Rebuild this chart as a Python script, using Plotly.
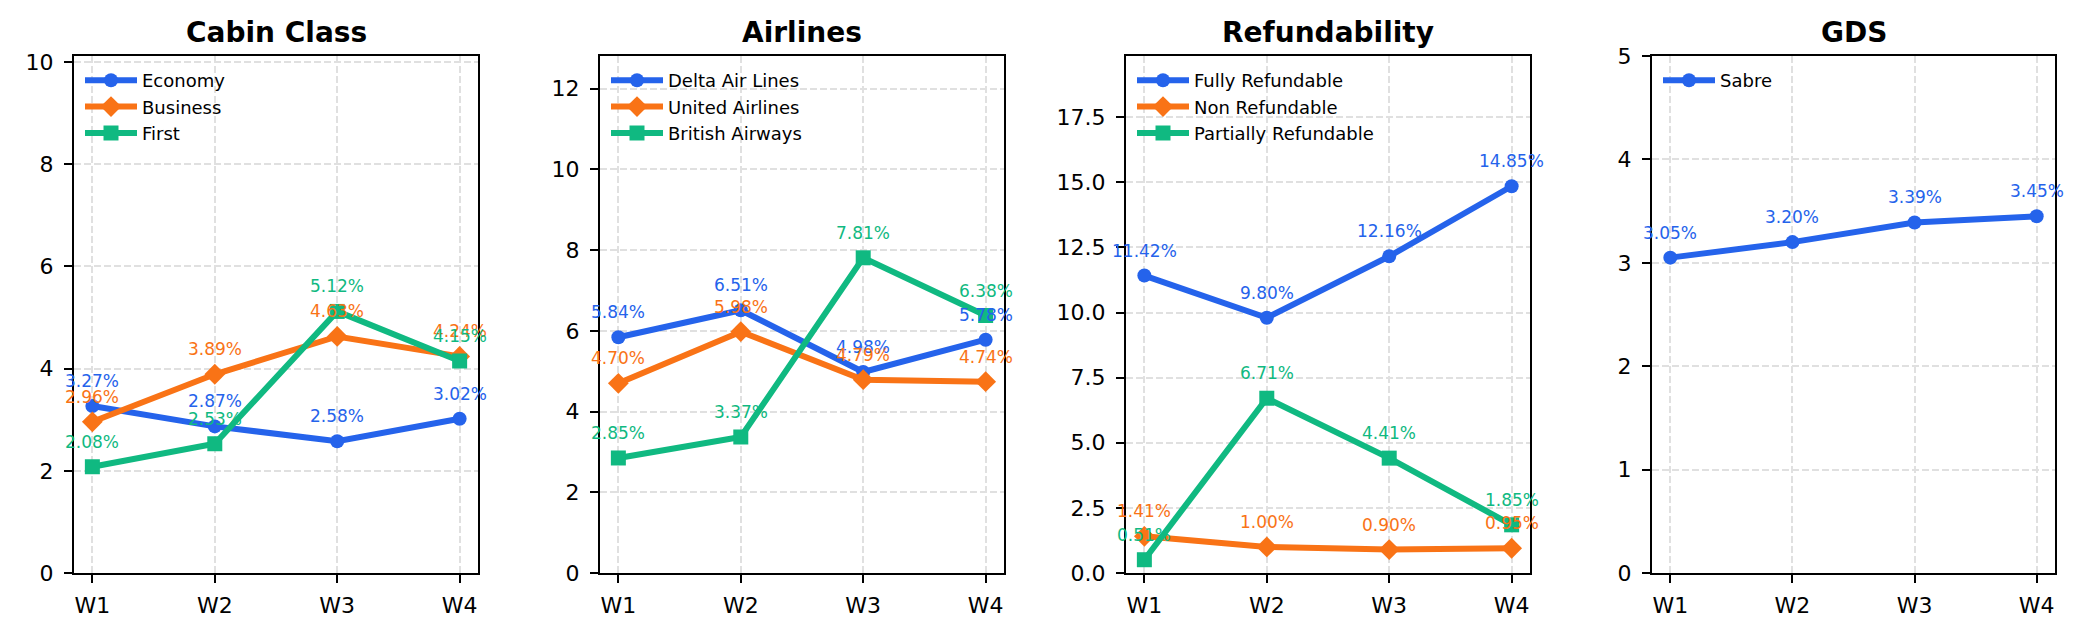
import plotly.graph_objects as go

weeks = ["W1", "W2", "W3", "W4"]

# Cabin Class
cabin_names = ["Economy", "Business", "First"]
economy = [3.27, 2.87, 2.58, 3.02]
business = [2.96, 3.89, 4.63, 4.24]
first = [2.08, 2.53, 5.12, 4.15]

# Airlines
airline_names = ["Delta Air Lines", "United Airlines", "British Airways"]
delta = [5.84, 6.51, 4.98, 5.78]
united = [4.70, 5.98, 4.79, 4.74]
british = [2.85, 3.37, 7.81, 6.38]

# Refundability
refund_names = ["Fully Refundable", "Non Refundable", "Partially Refundable"]
fully = [11.42, 9.80, 12.16, 14.85]
non_ref = [1.41, 1.00, 0.90, 0.95]
partial = [0.51, 6.71, 4.41, 1.85]

# GDS
gds_names = ["Sabre"]
sabre = [3.05, 3.20, 3.39, 3.45]

titles = ["Cabin Class", "Airlines", "Refundability", "GDS"]

COLORS = ["#2563eb", "#f97316", "#10b981"]
SYMBOLS = ["circle", "diamond", "square"]
MSIZE = [14, 16, 15]

panels = [
    (cabin_names, [economy, business, first]),
    (airline_names, [delta, united, british]),
    (refund_names, [fully, non_ref, partial]),
    (gds_names, [sabre]),
]

W, H = 2088, 640
lefts = [74, 600, 1126, 1652]
rights = [478, 1004, 1530, 2055]
top_px, bot_px = 56, 573

FONT = "DejaVu Sans"

fig = go.Figure()
annotations = []
layout = {}

for i, (names, series) in enumerate(panels):
    n = i + 1
    xa = "x" if n == 1 else f"x{n}"
    ya = "y" if n == 1 else f"y{n}"
    leg = "legend" if n == 1 else f"legend{n}"
    for j, (name, vals) in enumerate(zip(names, series)):
        fig.add_trace(go.Scatter(
            x=weeks, y=vals, name=name, mode="lines+markers",
            line=dict(color=COLORS[j], width=6),
            marker=dict(symbol=SYMBOLS[j], size=MSIZE[j], color=COLORS[j]),
            xaxis=xa, yaxis=ya, legend=leg, showlegend=True,
        ))
        for xv, yv in zip(weeks, vals):
            annotations.append(dict(
                x=xv, y=yv, xref=xa, yref=ya, text=f"{yv:.2f}%",
                showarrow=False, xanchor="center", yanchor="middle", yshift=25,
                font=dict(family=FONT, size=17, color=COLORS[j]),
            ))
    allvals = [v for s in series for v in s]
    ymax = 5 if n == 4 else max(allvals) + 5
    if n == 3:
        dtick, fmt = 2.5, ".1f"
    elif n == 4:
        dtick, fmt = 1, "d"
    else:
        dtick, fmt = 2, "d"
    axcommon = dict(
        showline=True, mirror=True, linecolor="black", linewidth=2,
        ticks="outside", ticklen=8, tickwidth=2, tickcolor="black",
        showgrid=True, gridcolor="#e0e0e0", gridwidth=1.5, griddash="7px,3px",
        zeroline=False, automargin=False,
        tickfont=dict(family=FONT, size=22, color="black"),
    )
    layout[f"xaxis{'' if n == 1 else n}"] = dict(
        axcommon, type="category", range=[-0.15, 3.15],
        domain=[lefts[i] / W, rights[i] / W], anchor=ya,
        ticklabelstandoff=4,
    )
    layout[f"yaxis{'' if n == 1 else n}"] = dict(
        axcommon, range=[0, ymax], dtick=dtick, tick0=0, tickformat=fmt,
        domain=[1 - bot_px / H, 1 - top_px / H], anchor=xa,
        ticklabelstandoff=6,
    )
    layout[leg] = dict(
        x=(lefts[i] + 6) / W, y=1 - (top_px + 6) / H, xanchor="left", yanchor="top",
        bgcolor="rgba(0,0,0,0)", borderwidth=0, itemwidth=52,
        font=dict(family=FONT, size=18, color="black"),
    )
    annotations.append(dict(
        x=(lefts[i] + rights[i]) / 2 / W, y=1 - 33 / H, xref="paper", yref="paper",
        text=f"<b>{titles[i]}</b>", showarrow=False,
        xanchor="center", yanchor="middle",
        font=dict(family=FONT, size=28, color="black"),
    ))

fig.update_layout(
    width=W, height=H, margin=dict(l=0, r=0, t=0, b=0, autoexpand=False),
    paper_bgcolor="white", plot_bgcolor="white",
    annotations=annotations, font=dict(family=FONT),
    **layout,
)

fig.write_html(
    "out.html",
    config={"displayModeBar": False},
    post_script="document.body.style.margin='0';document.body.style.padding='0';",
)
